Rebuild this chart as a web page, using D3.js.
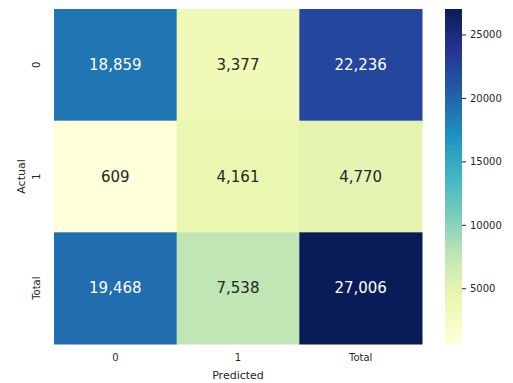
<!DOCTYPE html>
<html>
<head>
<meta charset="utf-8">
<script src="https://cdn.jsdelivr.net/npm/d3@7"></script>
<style>
  html, body { margin: 0; padding: 0; background: #fff; }
  svg { display: block; font-family: "DejaVu Sans", sans-serif; }
</style>
</head>
<body>
<svg id="chart" width="513" height="383"></svg>
<script>
// Confusion matrix with row/column totals
const predictedLabels = ["0", "1", "Total"];
const actualLabels = ["0", "1", "Total"];
const row0 = [18859, 3377, 22236];
const row1 = [609, 4161, 4770];
const rowTotal = [19468, 7538, 27006];
const matrix = [row0, row1, rowTotal];
const colorbarTicks = [5000, 10000, 15000, 20000, 25000];
// YlGnBu ColorBrewer anchors
const ylgnbu = ["#ffffd9","#edf8b1","#c7e9b4","#7fcdbb","#41b6c4","#1d91c0","#225ea8","#253494","#081d58"];

const svg = d3.select("#chart");
const margin = { left: 54, top: 9, right: 91, bottom: 39 };
const W = 513, H = 383;
const plotW = W - margin.left - margin.right; // 368
const plotH = H - margin.top - margin.bottom; // 335

const cells = [];
matrix.forEach((row, i) => row.forEach((v, j) => cells.push({ r: actualLabels[i], c: predictedLabels[j], v })));

const vmin = d3.min(cells, d => d.v), vmax = d3.max(cells, d => d.v);
const t = d3.scaleLinear().domain([vmin, vmax]).range([0, 1]);
const ramp = d3.scaleLinear()
  .domain(ylgnbu.map((_, i) => i / (ylgnbu.length - 1)))
  .range(ylgnbu)
  .interpolate(d3.interpolateRgb);
const color = v => ramp(t(v));

const x = d3.scaleBand().domain(predictedLabels).range([margin.left, margin.left + plotW]);
const y = d3.scaleBand().domain(actualLabels).range([margin.top, margin.top + plotH]);

const g = svg.append("g");
g.selectAll("rect.cell").data(cells).join("rect")
  .attr("class", "cell")
  .attr("x", d => x(d.c))
  .attr("y", d => y(d.r))
  .attr("width", x.bandwidth() + 0.5)
  .attr("height", y.bandwidth() + 0.5)
  .attr("fill", d => color(d.v));

const lum = c => {
  const rgb = d3.rgb(c);
  const f = u => { u /= 255; return u <= 0.03928 ? u / 12.92 : Math.pow((u + 0.055) / 1.055, 2.4); };
  return 0.2126 * f(rgb.r) + 0.7152 * f(rgb.g) + 0.0722 * f(rgb.b);
};
const fmt = d3.format(",");
g.selectAll("text.annot").data(cells).join("text")
  .attr("class", "annot")
  .attr("x", d => x(d.c) + x.bandwidth() / 2)
  .attr("y", d => y(d.r) + y.bandwidth() / 2)
  .attr("text-anchor", "middle")
  .attr("dominant-baseline", "central")
  .attr("font-size", 15)
  .attr("fill", d => lum(color(d.v)) > 0.408 ? "#262626" : "#ffffff")
  .text(d => fmt(d.v));

// axes
const xAxis = svg.append("g")
  .attr("transform", `translate(0,${margin.top + plotH})`)
  .call(d3.axisBottom(x).tickSize(0).tickPadding(10));
xAxis.select(".domain").remove();
xAxis.selectAll("text").attr("font-size", 10).attr("fill", "#262626").attr("font-family", "DejaVu Sans");

const yAxis = svg.append("g")
  .attr("transform", `translate(${margin.left},0)`)
  .call(d3.axisLeft(y).tickSize(0).tickPadding(0));
yAxis.select(".domain").remove();
yAxis.selectAll(".tick text")
  .attr("font-size", 10).attr("fill", "#262626").attr("font-family", "DejaVu Sans")
  .attr("x", 0).attr("dy", 0)
  .attr("text-anchor", "middle")
  .attr("transform", "translate(-14,0) rotate(-90)");

svg.append("text")
  .attr("x", margin.left + plotW / 2).attr("y", 379)
  .attr("text-anchor", "middle").attr("font-size", 11).attr("fill", "#262626")
  .text("Predicted");
svg.append("text")
  .attr("transform", `translate(25,${margin.top + plotH / 2}) rotate(-90)`)
  .attr("text-anchor", "middle").attr("font-size", 11).attr("fill", "#262626")
  .text("Actual");

// colorbar
const cbX = 445, cbW = 17;
const cbScale = d3.scaleLinear().domain([vmin, vmax]).range([margin.top + plotH, margin.top]);
const defs = svg.append("defs");
const grad = defs.append("linearGradient").attr("id", "cbgrad")
  .attr("x1", 0).attr("y1", 1).attr("x2", 0).attr("y2", 0);
ylgnbu.forEach((c, i) => grad.append("stop").attr("offset", i / (ylgnbu.length - 1)).attr("stop-color", c));
svg.append("rect")
  .attr("x", cbX).attr("y", margin.top)
  .attr("width", cbW).attr("height", plotH)
  .attr("fill", "url(#cbgrad)");
const cbAxis = svg.append("g")
  .attr("transform", `translate(${cbX + cbW},0)`)
  .call(d3.axisRight(cbScale).tickValues(colorbarTicks).tickFormat(d3.format("d")).tickSize(4).tickPadding(4));
cbAxis.select(".domain").remove();
cbAxis.selectAll("line").attr("stroke", "#262626");
cbAxis.selectAll("text").attr("font-size", 10).attr("fill", "#262626").attr("font-family", "DejaVu Sans");
</script>
</body>
</html>
